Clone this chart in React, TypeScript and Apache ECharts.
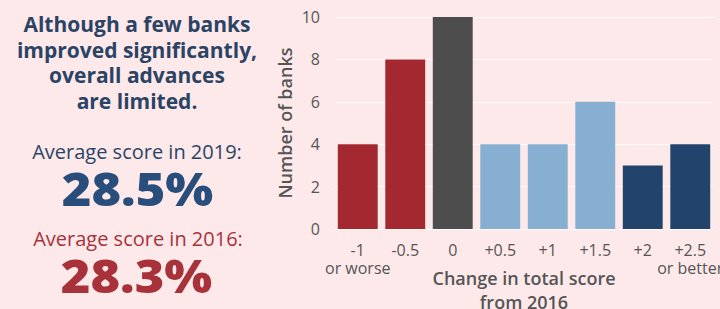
import React, { useEffect, useRef } from "react";
import * as echarts from "echarts";

const categories = ["-1\nor worse", "-0.5", "0", "+0.5", "+1", "+1.5", "+2", "+2.5\nor better"];
const bankCounts = [4, 8, 10, 4, 4, 6, 3, 4];
const barColors = ["#a3282f", "#a3282f", "#4d4d4d", "#87afd2", "#87afd2", "#87afd2", "#22436b", "#22436b"];
const yTicks = [0, 2, 4, 6, 8, 10];

const headline = ["Although a few banks", "improved significantly,", "overall advances", "are limited."];
const label2019 = "Average score in 2019:";
const value2019 = "28.5%";
const label2016 = "Average score in 2016:";
const value2016 = "28.3%";

const BG = "#fde9ea";
const FONT = "'Open Sans', 'Noto Sans', sans-serif";

export default function App() {
  const ref = useRef<HTMLDivElement>(null);
  useEffect(() => {
    if (!ref.current) return;
    const chart = echarts.init(ref.current, undefined, { renderer: "svg" });
    const navy = "#2b4466";
    const blue = "#2a4e7c";
    const red = "#a8323a";
    chart.setOption({
      animation: false,
      backgroundColor: BG,
      textStyle: { fontFamily: FONT },
      grid: { left: 334, right: 6, top: 17, bottom: 80, outerBoundsMode: "none", containLabel: false },
      xAxis: {
        type: "category",
        data: categories,
        axisLine: { show: false },
        axisTick: { show: false },
        axisLabel: { color: "#555", fontSize: 16, lineHeight: 18, margin: 12, interval: 0, fontFamily: FONT },
        name: "Change in total score\nfrom 2016",
        nameLocation: "middle",
        nameGap: 37,
        nameMoveOverlap: false,
        nameTextStyle: { color: "#555", fontSize: 18, fontWeight: 600, lineHeight: 24, fontFamily: FONT },
      },
      yAxis: {
        type: "value",
        min: yTicks[0],
        max: yTicks[yTicks.length - 1],
        interval: 2,
        axisLine: { show: false },
        axisTick: { show: false },
        axisLabel: { color: "#555", fontSize: 16, margin: 14, fontFamily: FONT },
        splitLine: { lineStyle: { color: "rgba(255,255,255,0.8)", width: 1 } },
        name: "Number of banks",
        nameLocation: "middle",
        nameGap: 40,
        nameMoveOverlap: false,
        nameTextStyle: { color: "#555", fontSize: 18, fontWeight: 600, fontFamily: FONT },
      },
      series: [
        {
          type: "bar",
          data: bankCounts.map((v, i) => ({ value: v, itemStyle: { color: barColors[i] } })),
          barCategoryGap: "16%",
        },
      ],
      graphic: [
        ...headline.map((t, i) => ({
          type: "text",
          x: 137,
          y: 24 + i * 25.7,
          style: {
            text: t,
            fill: navy,
            font: `bold 21px ${FONT}`,
            align: "center",
            verticalAlign: "middle",
          },
        })),
        {
          type: "text",
          x: 137,
          y: 151,
          style: { text: label2019, fill: navy, font: `20px ${FONT}`, align: "center", verticalAlign: "middle" },
        },
        {
          type: "text",
          x: 137.5,
          y: 188,
          scaleX: 1.1,
          style: { text: value2019, fill: blue, font: `800 46px ${FONT}`, align: "center", verticalAlign: "middle" },
        },
        {
          type: "text",
          x: 138,
          y: 238,
          style: { text: label2016, fill: red, font: `20px ${FONT}`, align: "center", verticalAlign: "middle" },
        },
        {
          type: "text",
          x: 136.5,
          y: 275,
          scaleX: 1.1,
          style: { text: value2016, fill: red, font: `800 46px ${FONT}`, align: "center", verticalAlign: "middle" },
        },
      ],
    });
    return () => chart.dispose();
  }, []);
  return <div ref={ref} style={{ position: "fixed", left: 0, top: 0, width: 720, height: 309 }} />;
}
